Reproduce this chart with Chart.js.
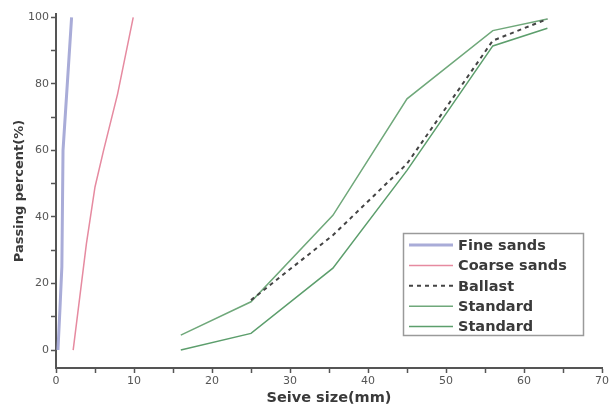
<!DOCTYPE html>
<html><head><meta charset="utf-8">
<script src="https://cdn.jsdelivr.net/npm/chart.js@4.4.0/dist/chart.umd.min.js"></script>
<style>html,body{margin:0;padding:0;background:#fff}#c{display:block}</style>
</head><body>
<canvas id="c" width="611" height="407"></canvas>
<script>
const fineX = [0.25, 0.5, 0.75, 0.9, 2.0];
const fineY = [0, 12, 25, 60, 100];
const coarseX = [2.2, 3.9, 5.0, 6.1, 7.9, 9.9];
const coarseY = [0, 32, 49, 60, 77, 100];
const ballastX = [25, 35.5, 45, 56, 63];
const ballastY = [15, 34.5, 56, 93, 99.5];
const stdUpX = [16, 25, 35.5, 45, 56, 63];
const stdUpY = [4.5, 14.5, 40.5, 75.5, 96, 99.5];
const stdLoX = [16, 25, 35.5, 45, 56, 63];
const stdLoY = [0, 5, 24.6, 54, 91.4, 96.7];
const xTickLabels = [0, 10, 20, 30, 40, 50, 60, 70];
const yTickLabels = [0, 20, 40, 60, 80, 100];

const pts = (xs, ys) => xs.map((x, i) => ({x, y: ys[i]}));
const FAM = '"DejaVu Sans", sans-serif';

const legendPlugin = {
  id: 'boxLegend',
  afterDraw(chart) {
    const ctx = chart.ctx;
    const x0 = 403, y0 = 233, w = 180, h = 102;
    ctx.save();
    ctx.strokeStyle = '#9a9a9a';
    ctx.lineWidth = 1.5;
    ctx.strokeRect(x0 + 0.5, y0 + 0.5, w, h);
    chart.data.datasets.forEach((ds, i) => {
      const cy = y0 + 12 + i * 20.4;
      ctx.beginPath();
      ctx.strokeStyle = ds.borderColor;
      ctx.lineWidth = ds.borderWidth;
      ctx.setLineDash(ds.borderDash || []);
      ctx.moveTo(x0 + 6, cy);
      ctx.lineTo(x0 + 50, cy);
      ctx.stroke();
      ctx.setLineDash([]);
      ctx.fillStyle = '#3a3a3a';
      ctx.font = 'bold 14.5px ' + FAM;
      ctx.textBaseline = 'middle';
      ctx.fillText(ds.label, x0 + 55, cy + 1);
    });
    ctx.restore();
  }
};

new Chart(document.getElementById('c'), {
  type: 'scatter',
  data: {
    datasets: [
      {label: 'Fine sands', data: pts(fineX, fineY), borderColor: '#a9acd8', borderWidth: 3},
      {label: 'Coarse sands', data: pts(coarseX, coarseY), borderColor: '#e68aa0', borderWidth: 1.5},
      {label: 'Ballast', data: pts(ballastX, ballastY), borderColor: '#444', borderWidth: 2, borderDash: [4, 4]},
      {label: 'Standard', data: pts(stdUpX, stdUpY), borderColor: '#6fa87a', borderWidth: 1.5},
      {label: 'Standard', data: pts(stdLoX, stdLoY), borderColor: '#5c9e6c', borderWidth: 1.5}
    ].map(d => Object.assign(d, {showLine: true, pointRadius: 0, fill: false, tension: 0}))
  },
  options: {
    responsive: false,
    animation: false,
    layout: {padding: {top: 14, right: 6, left: 0, bottom: 0}},
    plugins: {legend: {display: false}, tooltip: {enabled: false}},
    scales: {
      x: {
        type: 'linear', min: 0, max: 70,
        afterFit(s) { s.height = 39; },
        ticks: {
          stepSize: 5, autoSkip: false, maxRotation: 0, padding: 2,
          color: '#555', font: {size: 11, family: FAM},
          callback: v => xTickLabels.includes(v) ? String(v) : ''
        },
        grid: {display: true, drawOnChartArea: false, drawTicks: true, tickLength: 5, tickColor: '#555', tickWidth: 1.5},
        border: {color: '#555', width: 2},
        title: {display: true, text: 'Seive size(mm)', color: '#3a3a3a', padding: {top: 4, bottom: 0},
          font: {size: 14.5, weight: 'bold', family: FAM}}
      },
      y: {
        type: 'linear', min: -5.4, max: 101,
        afterFit(s) { s.width = 56; },
        afterBuildTicks(s) { s.ticks = [0,10,20,30,40,50,60,70,80,90,100].map(v => ({value: v})); },
        ticks: {
          autoSkip: false, padding: 2,
          color: '#555', font: {size: 11, family: FAM},
          callback: v => yTickLabels.includes(v) ? String(v) : ''
        },
        grid: {display: true, drawOnChartArea: false, drawTicks: true, tickLength: 5, tickColor: '#555', tickWidth: 1.5},
        border: {color: '#555', width: 2},
        title: {display: true, text: 'Passing percent(%)', color: '#3a3a3a', padding: {top: 12, bottom: 0},
          font: {size: 13, weight: 'bold', family: FAM}}
      }
    }
  },
  plugins: [legendPlugin]
});
</script>
</body></html>
